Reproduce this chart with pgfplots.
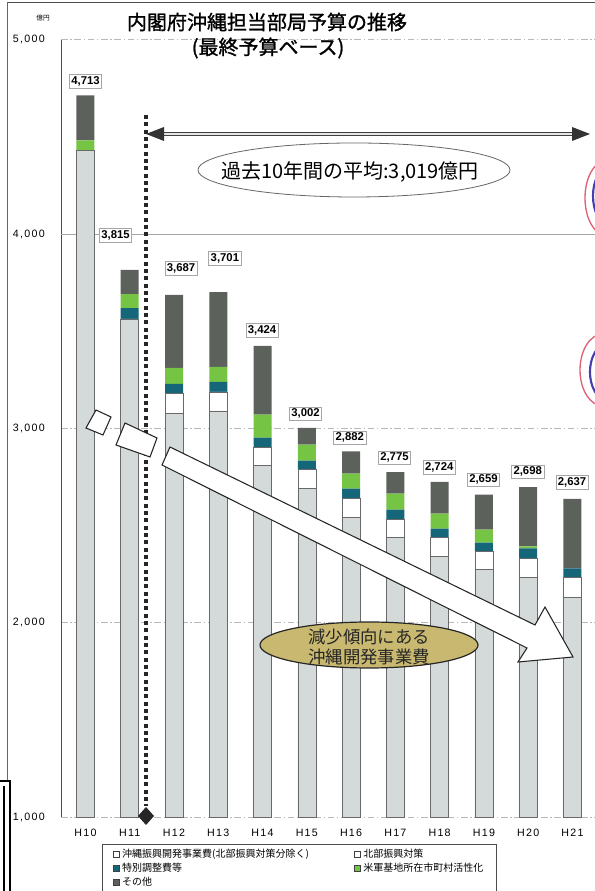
\documentclass[border=0pt]{standalone}
\usepackage{fontspec}
\setmainfont{Liberation Sans}
\newfontfamily\jp{Noto Sans CJK JP}
\newfontfamily\jpb[FakeBold=1.2]{Noto Sans CJK JP}
\newfontfamily\axnum[LetterSpace=12]{Liberation Sans}
\usepackage{pgfplots}
\usepackage{pgfplotstable}
\pgfplotsset{compat=1.18}

\definecolor{cLight}{RGB}{212,218,218}
\definecolor{cTeal}{RGB}{22,102,122}
\definecolor{cGreen}{RGB}{118,196,68}
\definecolor{cDark}{RGB}{92,97,92}
\definecolor{cEdge}{RGB}{105,105,105}
\definecolor{cOlive}{RGB}{200,184,112}
\definecolor{cRed}{RGB}{222,96,116}
\definecolor{cBlue}{RGB}{72,62,172}

% segment heights (oku yen), bottom to top
\pgfplotstableread{
x light white teal green other
0  4431 0   0  51  231
1  3563 0   56 72  124
2  3075 103 51 82  376
3  3090 98  51 77  385
4  2808 92  52 118 354
5  2690 97  47 82  86
6  2541 97  52 77  115
7  2438 93  51 82  111
8  2340 98  46 77  163
9  2274 92  46 67  180
10 2233 97  52 10  306
11 2130 103 46 0   358
}\budget

\tikzset{
  lbl/.style={draw=gray!70, line width=0.4pt, fill=white, inner sep=1.5pt,
    font=\bfseries\fontsize{8.5}{9}\selectfont}
}

\begin{document}
\begin{tikzpicture}
\useasboundingbox (0,0) rectangle (446.25pt,668.25pt);
\begin{axis}[
  at={(45.75pt,55.5pt)}, anchor=south west,
  scale only axis, width=400.5pt, height=583pt,
  xmin=-0.553, xmax=11.51, ymin=1000, ymax=5000,
  ybar stacked, bar width=13.5pt,
  axis lines*=left,
  x axis line style={draw=none},
  y axis line style={draw=black!70, line width=0.6pt},
  xtick={0,...,11},
  xticklabels={H10,H11,H12,H13,H14,H15,H16,H17,H18,H19,H20,H21},
  ytick={1000,2000,3000,4000,5000},
  major tick length=0pt,
  /pgf/number format/assume math mode=true,
  /pgf/number format/1000 sep={,},
  yticklabel style={font=\axnum\fontsize{8}{9}\selectfont, anchor=east, inner xsep=0pt, xshift=-12pt},
  xticklabel style={font=\axnum\fontsize{8}{9}\selectfont, anchor=north, inner sep=0pt, yshift=-9pt},
  ymajorgrids,
  grid style={gray!55, line width=0.4pt, dash pattern=on 5pt off 2pt on 1pt off 2pt},
  extra y ticks={4000}, extra y tick labels={},
  extra y tick style={major grid style={gray!70, solid, line width=0.5pt}},
  legend columns=2,
  legend style={at={(0.0768,-0.035)}, anchor=north west, draw=black!70, line width=0.5pt,
    font=\jp\fontsize{7.5}{9}\selectfont, inner xsep=8pt, inner ysep=2pt,
    nodes={inner ysep=1.4pt},
    /tikz/every even column/.append style={column sep=2pt}},
  legend cell align=left,
]
\addplot[fill=cLight, draw=cEdge, line width=0.4pt, legend image code/.code={\draw[fill=white,draw=black!75,line width=0.5pt] (0pt,-2.2pt) rectangle (4.4pt,2.2pt);}]
  table[x=x, y=light] {\budget};
\addlegendentry{\makebox[170pt][l]{沖縄振興開発事業費(北部振興対策分除く)}}
\addplot[fill=white, draw=cEdge, line width=0.4pt, legend image code/.code={\draw[fill=white,draw=black!75,line width=0.5pt] (0pt,-2.2pt) rectangle (4.4pt,2.2pt);}]
  table[x=x, y=white] {\budget};
\addlegendentry{北部振興対策}
\addplot[fill=cTeal, draw=none, legend image code/.code={\draw[fill=cTeal,draw=black!75,line width=0.5pt] (0pt,-2.2pt) rectangle (4.4pt,2.2pt);}]
  table[x=x, y=teal] {\budget};
\addlegendentry{特別調整費等}
\addplot[fill=cGreen, draw=none, legend image code/.code={\draw[fill=cGreen,draw=black!75,line width=0.5pt] (0pt,-2.2pt) rectangle (4.4pt,2.2pt);}]
  table[x=x, y=green] {\budget};
\addlegendentry{米軍基地所在市町村活性化}
\addplot[fill=cDark, draw=none, legend image code/.code={\draw[fill=cDark,draw=black!75,line width=0.5pt] (0pt,-2.2pt) rectangle (4.4pt,2.2pt);}]
  table[x=x, y=other] {\budget};
\addlegendentry{その他}

% totals
\node[lbl] at (axis cs:0,4785) {4,713};
\node[lbl] at (axis cs:0.68,3994) {3,815};
\node[lbl] at (axis cs:2.16,3825) {3,687};
\node[lbl] at (axis cs:3.15,3876) {3,701};
\node[lbl] at (axis cs:3.99,3506) {3,424};
\node[lbl] at (axis cs:4.97,3075) {3,002};
\node[lbl] at (axis cs:5.97,2952) {2,882};
\node[lbl] at (axis cs:6.98,2849) {2,775};
\node[lbl] at (axis cs:7.99,2798) {2,724};
\node[lbl] at (axis cs:8.99,2736) {2,659};
\node[lbl] at (axis cs:9.99,2777) {2,698};
\node[lbl] at (axis cs:10.99,2721) {2,637};
\end{axis}

% annotations, in pixel units of the reference (origin top left)
\begin{scope}[shift={(0pt,668.25pt)}, x=0.75pt, y=-0.75pt]
  % page frame bits
  \draw[black!70, line width=0.6pt] (7,2) -- (595,2);
  \draw[black!60, line width=0.5pt] (7,2) -- (7,780);
  \draw[black, line width=1.6pt] (-2,781) -- (10,781) -- (10,895);
  \draw[black, line width=1.6pt] (4,786) -- (4,895);
  % title
  \node[font=\jpb\fontsize{15}{16}\selectfont] at (267,22) {内閣府沖縄担当部局予算の推移};
  \node[font=\jpb\fontsize{15}{16}\selectfont] at (268,48) {(最終予算ベース)};
  \node[font=\jp\fontsize{5}{6}\selectfont] at (43,18) {億円};
  % dotted divider
  \draw[black!85, line width=3pt, dash pattern=on 3pt off 2.5pt] (146,115) -- (146,806);
  \fill[black!85] (146,807) -- (154,816) -- (146,825) -- (138,816) -- cycle;
  % double arrow
  \draw[black!75, line width=0.7pt, double=white!80!gray, double distance=1.4pt] (160,134) -- (575,134);
  \fill[black!80] (146,134) -- (164,127) -- (164,141) -- cycle;
  \fill[black!80] (590,134) -- (572,127) -- (572,141) -- cycle;
  % average ellipse
  \draw[black!60, line width=0.6pt, fill=white] (354,170) ellipse [x radius=156, y radius=27];
  \node[font=\jp\fontsize{15}{16}\selectfont] at (350,172) {過去10年間の平均:3,019億円};
  % broken arrow
  \draw[black!85, line width=0.8pt, fill=white] (96,410) -- (111,417) -- (103,435) -- (86,428) -- cycle;
  \draw[black!85, line width=0.8pt, fill=white] (125,423) -- (157,438) -- (150,457) -- (116,445) -- cycle;
  \draw[black!85, line width=0.8pt, fill=white]
    (170,447) -- (535,625) -- (545,607) -- (573,657) -- (518,662) -- (527,648) -- (162,465) -- cycle;
  % olive ellipse
  \draw[black!85, line width=0.9pt, fill=cOlive] (369,645) ellipse [x radius=109, y radius=23];
  \node[font=\jp\fontsize{13}{15.5}\selectfont, align=center, text=black!85] at (369,647)
    {減少傾向にある\\沖縄開発事業費};
  % hand-drawn circles at the right edge
  \draw[cRed, line width=1pt] (606,198) ellipse [x radius=21, y radius=37];
  \draw[cBlue, line width=1.6pt] (608,196) ellipse [x radius=15, y radius=28];
  \draw[cRed, line width=1pt] (603,370) ellipse [x radius=23, y radius=36];
  \draw[cBlue, line width=1.6pt] (607,372) ellipse [x radius=17, y radius=28];
\end{scope}
\end{tikzpicture}
\end{document}
